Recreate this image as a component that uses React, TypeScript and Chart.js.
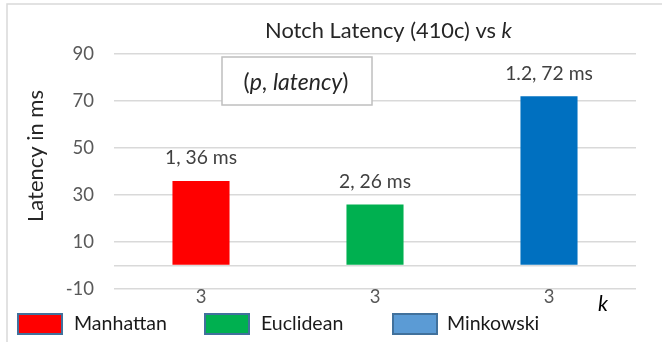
import React, { useEffect, useRef } from "react";
import { Chart, registerables } from "chart.js";

Chart.register(...registerables);

const categories = ["3", "3", "3"];
const seriesNames = ["Manhattan", "Euclidean", "Minkowski"];
const pValues = ["1", "2", "1.2"];
const latencyMs = [36, 26, 72];
const barColors = ["#FF0000", "#00B050", "#0070C0"];
const legendColors = ["#FF0000", "#00B050", "#5B9BD5"];
const yTickValues = [-10, 0, 10, 30, 50, 70, 90];

const FONT = "Lato, 'Open Sans', sans-serif";

type Seg = { t: string; italic?: boolean };

function segWidth(ctx: CanvasRenderingContext2D, segs: Seg[], size: number) {
  let w = 0;
  for (const s of segs) {
    ctx.font = `${s.italic ? "italic " : ""}${size}px ${FONT}`;
    w += ctx.measureText(s.t).width;
  }
  return w;
}

function fitSize(ctx: CanvasRenderingContext2D, segs: Seg[], target: number) {
  const w = segWidth(ctx, segs, 20);
  return (20 * target) / w;
}

function drawSegs(
  ctx: CanvasRenderingContext2D,
  segs: Seg[],
  size: number,
  x: number,
  y: number,
  align: "center" | "left",
  color: string
) {
  const total = segWidth(ctx, segs, size);
  let cx = align === "center" ? x - total / 2 : x;
  ctx.textBaseline = "middle";
  ctx.textAlign = "left";
  ctx.fillStyle = color;
  for (const s of segs) {
    ctx.font = `${s.italic ? "italic " : ""}${size}px ${FONT}`;
    ctx.fillText(s.t, cx, y);
    cx += ctx.measureText(s.t).width;
  }
}

const decorPlugin = {
  id: "decor",
  afterDraw(chart: any) {
    const ctx: CanvasRenderingContext2D = chart.ctx;
    ctx.save();

    // outer frame (top and left edges visible)
    ctx.strokeStyle = "#D9D9D9";
    ctx.lineWidth = 1.5;
    ctx.beginPath();
    ctx.moveTo(7, 342);
    ctx.lineTo(7, 4);
    ctx.lineTo(662, 4);
    ctx.stroke();

    // title
    const titleSegs: Seg[] = [{ t: "Notch Latency (410c) vs " }, { t: "k", italic: true }];
    const ts = fitSize(ctx, titleSegs, 247);
    drawSegs(ctx, titleSegs, ts, 388.5, 31, "center", "#262626");

    // y axis title
    const ySegs: Seg[] = [{ t: "Latency in ms" }];
    const ys = fitSize(ctx, ySegs, 132);
    ctx.save();
    ctx.translate(36, 156);
    ctx.rotate(-Math.PI / 2);
    drawSegs(ctx, ySegs, ys, 0, 0, "center", "#262626");
    ctx.restore();

    // text box
    ctx.fillStyle = "#FFFFFF";
    ctx.fillRect(222, 57, 150, 48);
    ctx.strokeStyle = "#BFBFBF";
    ctx.lineWidth = 1.5;
    ctx.strokeRect(222, 57, 150, 48);
    const boxSegs: Seg[] = [
      { t: "(" },
      { t: "p", italic: true },
      { t: ", " },
      { t: "latency", italic: true },
      { t: ")" },
    ];
    const bs = fitSize(ctx, boxSegs, 105);
    drawSegs(ctx, boxSegs, bs, 296, 83, "center", "#262626");

    // bar labels
    const ls = fitSize(ctx, [{ t: `${pValues[0]}, ${latencyMs[0]} ms` }], 72);
    chart.data.datasets.forEach((ds: any, di: number) => {
      const meta = chart.getDatasetMeta(di);
      meta.data.forEach((el: any, i: number) => {
        const v = ds.data[i];
        if (v === null || v === undefined) return;
        drawSegs(ctx, [{ t: `${pValues[di]}, ${v} ms` }], ls, el.x, el.y - 23, "center", "#404040");
      });
    });

    // k axis label
    drawSegs(ctx, [{ t: "k", italic: true }], 21, 603, 304, "center", "#000000");

    // legend
    const legBoxX = [18, 205, 393];
    const legTextX = [74, 261, 447];
    const legSize = fitSize(ctx, [{ t: seriesNames[0] }], 93);
    seriesNames.forEach((name, i) => {
      ctx.fillStyle = legendColors[i];
      ctx.fillRect(legBoxX[i], 314, 44, 20);
      ctx.strokeStyle = "#41719C";
      ctx.lineWidth = 2;
      ctx.strokeRect(legBoxX[i], 314, 44, 20);
      drawSegs(ctx, [{ t: name }], legSize, legTextX[i], 324, "left", "#1a1a1a");
    });

    ctx.restore();
  },
};

export default function App() {
  const ref = useRef<HTMLCanvasElement | null>(null);

  useEffect(() => {
    if (!ref.current) return;
    const datasets = seriesNames.map((name, i) => ({
      label: name,
      data: categories.map((_, j) => (j === i ? latencyMs[i] : null)),
      backgroundColor: barColors[i],
      borderWidth: 0,
      barPercentage: 1,
      categoryPercentage: 0.328,
      skipNull: true,
    }));
    const chart = new Chart(ref.current, {
      type: "bar",
      data: { labels: categories, datasets },
      options: {
        animation: false,
        responsive: false,
        devicePixelRatio: 1,
        layout: { padding: { left: 0, right: 26, top: 54, bottom: 0 } },
        plugins: {
          legend: { display: false },
          title: { display: false },
          tooltip: { enabled: false },
        },
        scales: {
          x: {
            grid: { display: false, drawTicks: false },
            border: { display: false },
            ticks: {
              color: "#595959",
              font: { family: FONT, size: 18.5 },
              padding: -3,
            },
            afterFit: (s: any) => {
              s.height = 53;
            },
          },
          y: {
            min: -10,
            max: 90,
            afterBuildTicks: (s: any) => {
              s.ticks = yTickValues.map((v) => ({ value: v }));
            },
            grid: { color: "#D9D9D9", lineWidth: 1.5, drawTicks: false },
            border: { display: false },
            ticks: {
              color: "#595959",
              font: { family: FONT, size: 18.5 },
              padding: 20,
              callback: (v: any) => (v === 0 ? "" : String(v)),
            },
            afterFit: (s: any) => {
              s.width = 114;
            },
          },
        },
      },
      plugins: [decorPlugin],
    });
    return () => chart.destroy();
  }, []);

  return (
    <div style={{ position: "fixed", left: 0, top: 0, width: 662, height: 342, background: "#fff" }}>
      <canvas ref={ref} width={662} height={342} style={{ width: 662, height: 342, display: "block" }} />
    </div>
  );
}
